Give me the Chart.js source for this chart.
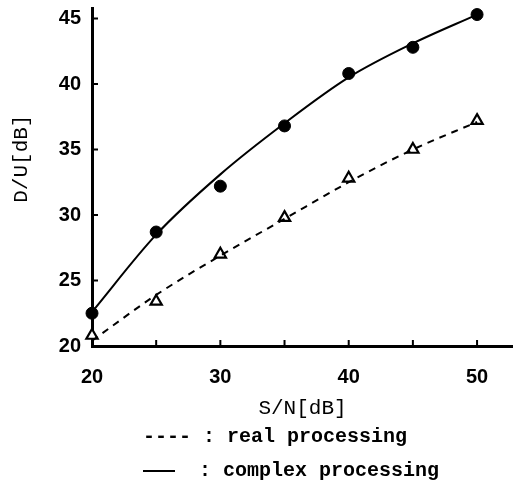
<!DOCTYPE html>
<html lang="en">
<head>
    <meta charset="UTF-8">
    <title>D/U vs S/N</title>
    <script src="https://cdn.jsdelivr.net/npm/chart.js"></script>
    <style>
        body { margin: 0; background: #fff; }
        .wrap { position: relative; width: 513px; height: 489px; }
        .legend {
            position: absolute; left: 143px;
            font-family: 'Liberation Mono', monospace; font-size: 20px; font-weight: bold;
            color: #000; white-space: pre; line-height: 20px;
        }
        .solid {
            display: inline-block; width: 32px; border-top: 2.5px solid #000;
            vertical-align: middle; margin-right: 12px;
        }
    </style>
</head>
<body>
    <div class="wrap">
        <canvas id="duChart" width="513" height="489"></canvas>
        <div class="legend" style="top: 427px;">---- : real processing</div>
        <div class="legend" style="top: 461px;"><span class="solid"></span> : complex processing</div>
    </div>

    <script>
        // values
        const snr = [20, 25, 30, 35, 40, 45, 50];
        const complexMeasured = [22.5, 28.7, 32.2, 36.8, 40.8, 42.8, 45.3];
        const realMeasured = [20.8, 23.4, 27.0, 29.8, 32.8, 35.0, 37.2];
        const complexCurve = [22.6, 28.5, 33.1, 37.0, 40.5, 43.1, 45.3];
        const realCurve = [20.4, 23.9, 26.9, 29.7, 32.5, 35.0, 37.1];
        const xTicks = [20, 25, 30, 35, 40, 45, 50];
        const xTickLabels = ['20', '', '30', '', '40', '', '50'];
        const yTicks = [20, 25, 30, 35, 40, 45];
        const yTickLabels = ['20', '25', '30', '35', '40', '45'];
        const yTitle = 'D/U[dB]';

        const pts = (ys) => snr.map((x, i) => ({ x: x, y: ys[i] }));

        // inward tick marks on both axes, and the y title a bit above centre
        const axisExtras = {
            id: 'axisExtras',
            afterDatasetsDraw(chart) {
                const { ctx, chartArea, scales } = chart;
                ctx.save();
                ctx.strokeStyle = '#000';
                ctx.lineWidth = 2;
                ctx.beginPath();
                xTicks.forEach(v => {
                    const px = scales.x.getPixelForValue(v);
                    ctx.moveTo(px, chartArea.bottom);
                    ctx.lineTo(px, chartArea.bottom - 6);
                });
                yTicks.forEach(v => {
                    const py = scales.y.getPixelForValue(v);
                    ctx.moveTo(chartArea.left, py);
                    ctx.lineTo(chartArea.left + 6, py);
                });
                ctx.stroke();

                ctx.translate(21, scales.y.getPixelForValue(34.3));
                ctx.rotate(-Math.PI / 2);
                ctx.fillStyle = '#000';
                ctx.font = '21px "Liberation Mono"';
                ctx.textAlign = 'center';
                ctx.textBaseline = 'middle';
                ctx.fillText(yTitle, 0, 0);
                ctx.restore();
            }
        };

        new Chart(document.getElementById('duChart'), {
            type: 'scatter',
            data: {
                datasets: [
                    {
                        label: 'complex fit', data: pts(complexCurve), showLine: true,
                        borderColor: '#000', borderWidth: 2, pointRadius: 0,
                        tension: 0.4, cubicInterpolationMode: 'monotone', fill: false
                    },
                    {
                        label: 'real fit', data: pts(realCurve), showLine: true,
                        borderColor: '#000', borderWidth: 2, borderDash: [7, 6], pointRadius: 0,
                        tension: 0.4, cubicInterpolationMode: 'monotone', fill: false
                    },
                    {
                        label: 'complex', data: pts(complexMeasured), clip: false,
                        pointStyle: 'circle', pointRadius: 6,
                        backgroundColor: '#000', borderColor: '#000', borderWidth: 1
                    },
                    {
                        label: 'real', data: pts(realMeasured), clip: false,
                        pointStyle: 'triangle', pointRadius: 6.5,
                        backgroundColor: '#fff', borderColor: '#000', borderWidth: 2.2
                    }
                ]
            },
            options: {
                responsive: false,
                animation: false,
                layout: { autoPadding: false, padding: { left: 0, right: 0, top: 8, bottom: 68 } },
                scales: {
                    x: {
                        type: 'linear', min: 20, max: 52.8,
                        afterBuildTicks: (s) => { s.ticks = xTicks.map(v => ({ value: v })); },
                        afterFit: (s) => { s.height = 75; s.paddingLeft = 0; s.paddingRight = 0; },
                        grid: { display: false },
                        border: { color: '#000', width: 3 },
                        ticks: {
                            color: '#000', padding: 11, maxRotation: 0,
                            font: { family: 'Liberation Sans', size: 20, weight: 'bold' },
                            callback: (v) => xTickLabels[xTicks.indexOf(v)]
                        },
                        title: {
                            display: true, text: 'S/N[dB]', color: '#000',
                            font: { family: 'Liberation Mono', size: 21 },
                            padding: { top: 4, bottom: 0 }
                        }
                    },
                    y: {
                        type: 'linear', min: 20, max: 45.8,
                        afterBuildTicks: (s) => { s.ticks = yTicks.map(v => ({ value: v })); },
                        afterFit: (s) => { s.width = 92; s.paddingTop = 0; s.paddingBottom = 0; },
                        grid: { display: false },
                        border: { color: '#000', width: 3 },
                        ticks: {
                            color: '#000', padding: 3,
                            font: { family: 'Liberation Sans', size: 20, weight: 'bold' },
                            callback: (v) => yTickLabels[yTicks.indexOf(v)]
                        },
                        title: { display: false }
                    }
                },
                plugins: {
                    legend: { display: false },
                    tooltip: { enabled: false }
                }
            },
            plugins: [axisExtras]
        });
    </script>
</body>
</html>
